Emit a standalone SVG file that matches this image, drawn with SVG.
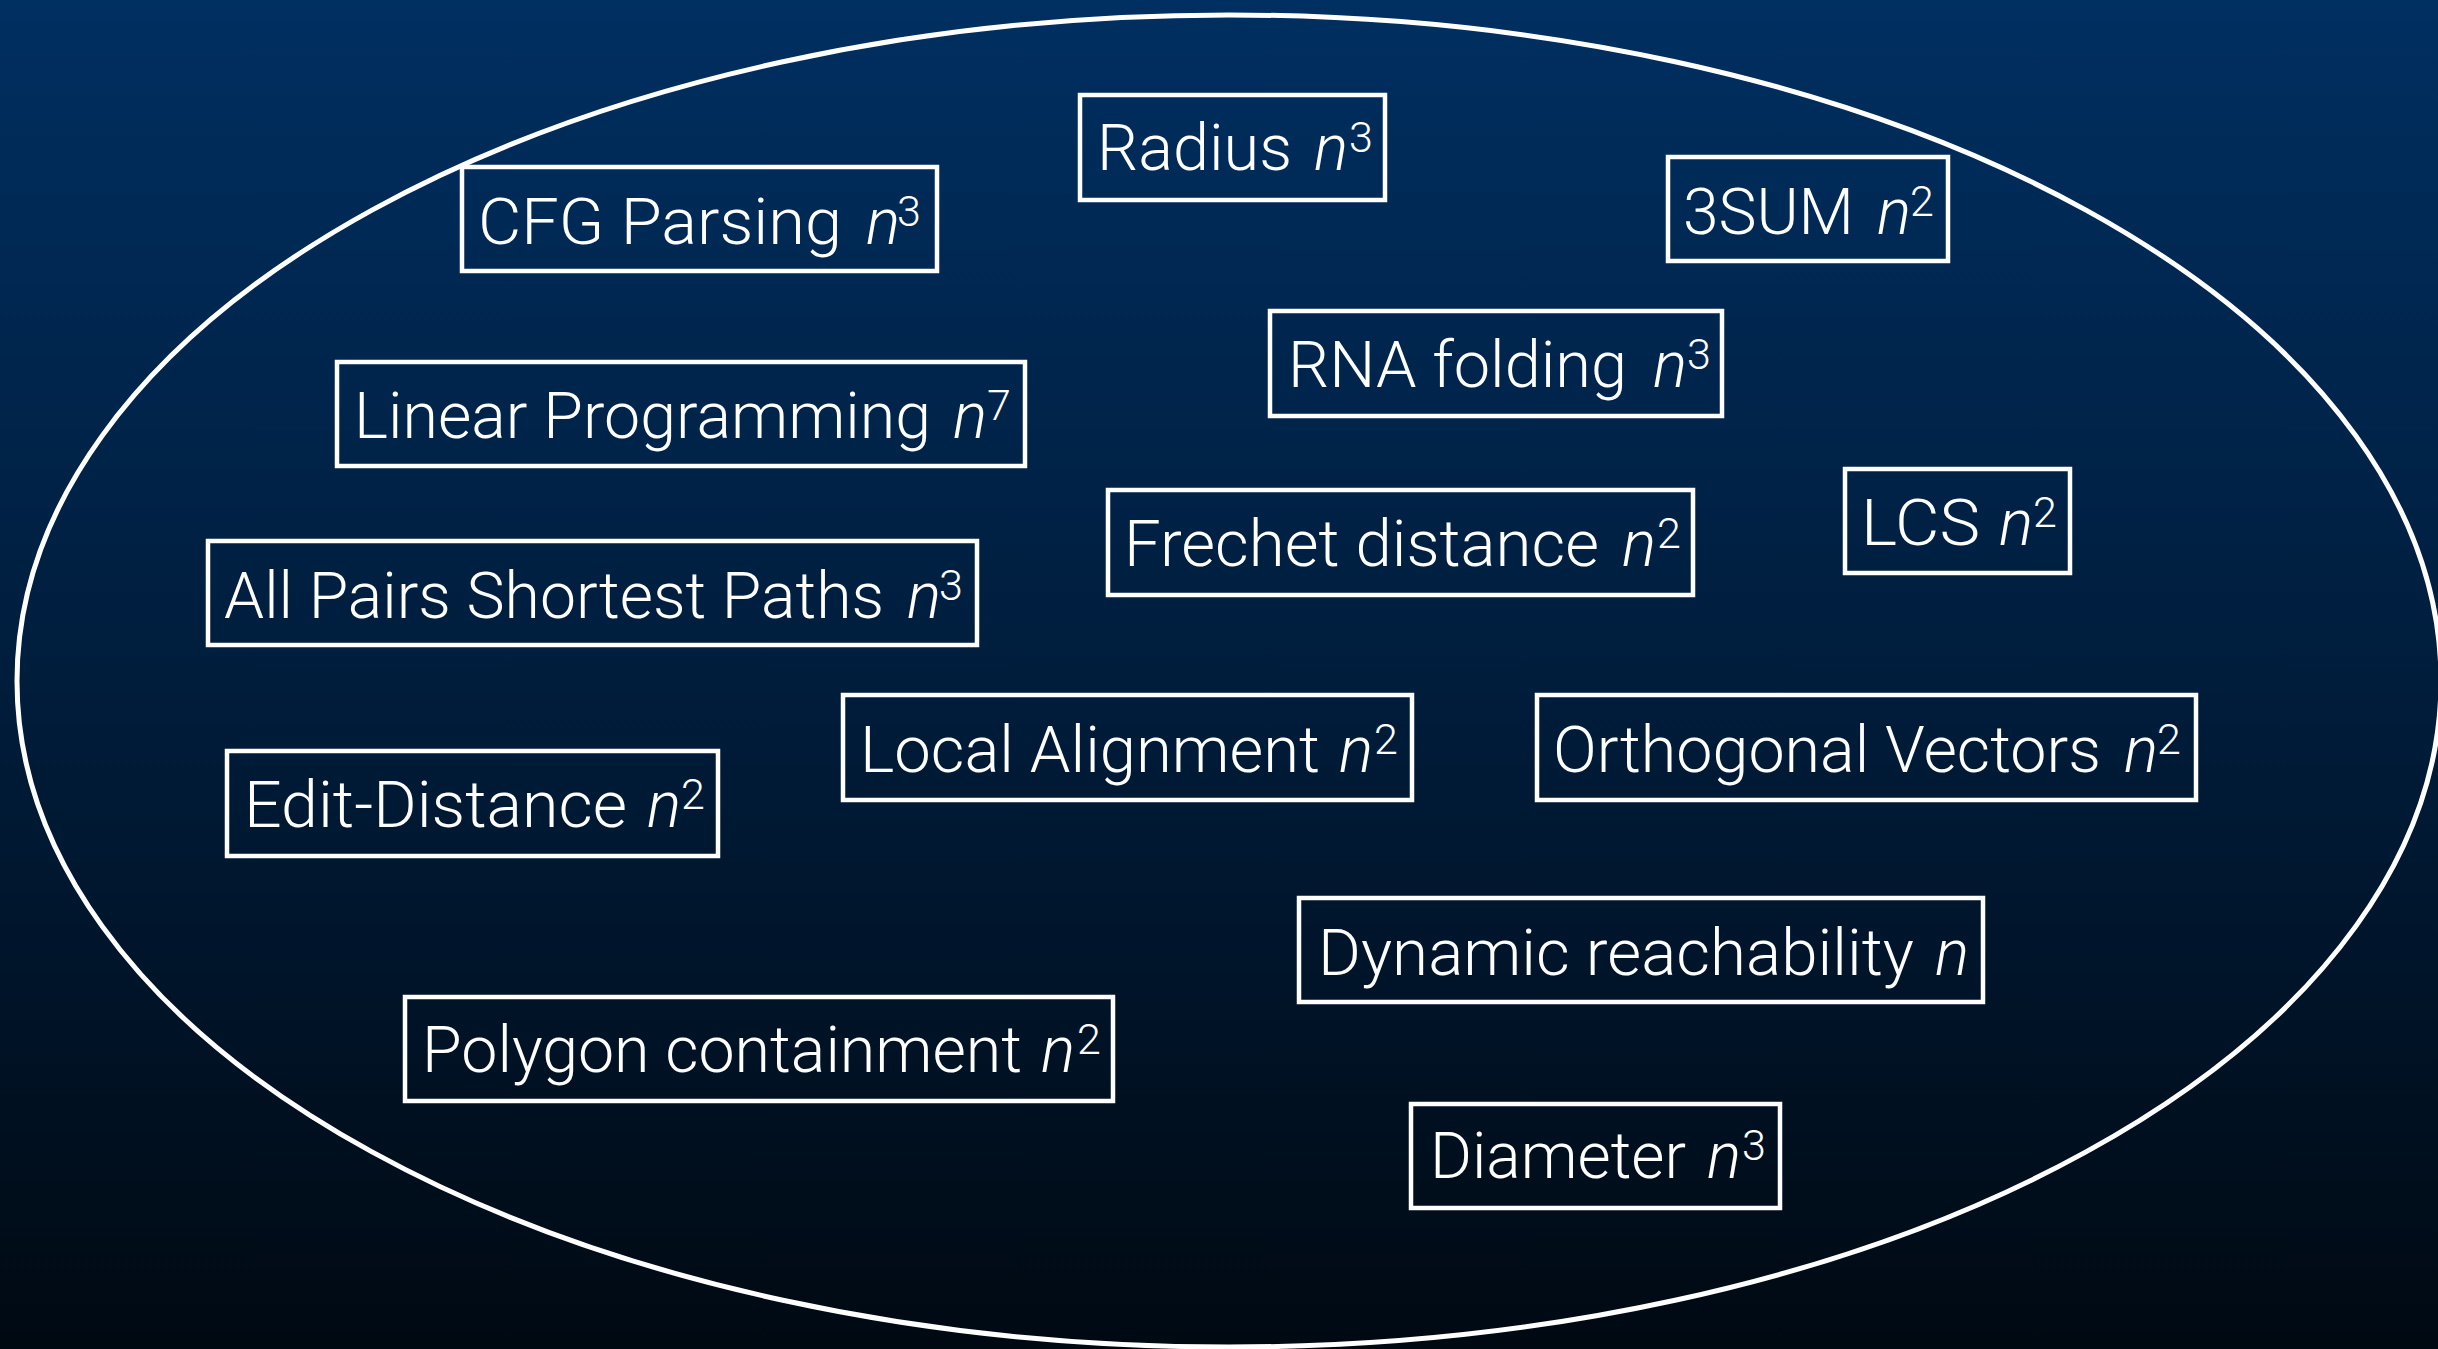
<svg xmlns="http://www.w3.org/2000/svg" width="2438" height="1349" viewBox="0 0 2438 1349">
  <defs>
    <linearGradient id="bg" x1="0" y1="0" x2="0" y2="1">
      <stop offset="0" stop-color="#002f61"/>
      <stop offset="0.5" stop-color="#001d3c"/>
      <stop offset="1" stop-color="#000912"/>
    </linearGradient>
    <style>
      .box { fill: none; stroke: #ffffff; stroke-width: 4.5; }
      .lbl { fill: #ffffff; font-family: Roboto, "Liberation Sans", "Noto Sans", sans-serif; font-weight: 300; font-size: 64px; }
      .it { font-style: italic; }
      .sup { font-size: 43px; }
      .set { fill: none; stroke: #ffffff; stroke-width: 5; }
    </style>
  </defs>
  <rect x="0" y="0" width="2438" height="1349" fill="url(#bg)"/>
  <ellipse class="set" cx="1229" cy="681" rx="1212" ry="666"/>

  <g id="nodes">
    <g id="node-cfg">
      <rect class="box" x="462" y="167" width="475" height="104"/>
      <text class="lbl" y="244"><tspan x="478" textLength="364" lengthAdjust="spacingAndGlyphs">CFG Parsing</tspan> <tspan class="it" x="866">n</tspan><tspan class="sup" x="897" y="226">3</tspan></text>
    </g>
    <g id="node-radius">
      <rect class="box" x="1080" y="95" width="305" height="105"/>
      <text class="lbl" y="170"><tspan x="1097" textLength="195" lengthAdjust="spacingAndGlyphs">Radius</tspan> <tspan class="it" x="1314">n</tspan><tspan class="sup" x="1349" y="152">3</tspan></text>
    </g>
    <g id="node-3sum">
      <rect class="box" x="1668" y="157" width="280" height="104"/>
      <text class="lbl" y="234"><tspan x="1683" textLength="171" lengthAdjust="spacingAndGlyphs">3SUM</tspan> <tspan class="it" x="1877">n</tspan><tspan class="sup" x="1910" y="216">2</tspan></text>
    </g>
    <g id="node-rna">
      <rect class="box" x="1270" y="311" width="452" height="105"/>
      <text class="lbl" y="387"><tspan x="1288" textLength="339" lengthAdjust="spacingAndGlyphs">RNA folding</tspan> <tspan class="it" x="1653">n</tspan><tspan class="sup" x="1687" y="369">3</tspan></text>
    </g>
    <g id="node-lp">
      <rect class="box" x="337" y="362" width="688" height="104"/>
      <text class="lbl" y="438"><tspan x="354" textLength="577" lengthAdjust="spacingAndGlyphs">Linear Programming</tspan> <tspan class="it" x="953">n</tspan><tspan class="sup" x="987" y="420">7</tspan></text>
    </g>
    <g id="node-apsp">
      <rect class="box" x="208" y="541" width="769" height="104"/>
      <text class="lbl" y="618"><tspan x="224" textLength="660" lengthAdjust="spacingAndGlyphs">All Pairs Shortest Paths</tspan> <tspan class="it" x="907">n</tspan><tspan class="sup" x="939" y="600">3</tspan></text>
    </g>
    <g id="node-frechet">
      <rect class="box" x="1108" y="490" width="585" height="105"/>
      <text class="lbl" y="566"><tspan x="1124" textLength="475" lengthAdjust="spacingAndGlyphs">Frechet distance</tspan> <tspan class="it" x="1622">n</tspan><tspan class="sup" x="1657" y="548">2</tspan></text>
    </g>
    <g id="node-lcs">
      <rect class="box" x="1845" y="469" width="225" height="104"/>
      <text class="lbl" y="545"><tspan x="1861" textLength="119" lengthAdjust="spacingAndGlyphs">LCS</tspan> <tspan class="it" x="1999">n</tspan><tspan class="sup" x="2033" y="527">2</tspan></text>
    </g>
    <g id="node-local">
      <rect class="box" x="843" y="695" width="569" height="105"/>
      <text class="lbl" y="772"><tspan x="860" textLength="460" lengthAdjust="spacingAndGlyphs">Local Alignment</tspan> <tspan class="it" x="1339">n</tspan><tspan class="sup" x="1374" y="754">2</tspan></text>
    </g>
    <g id="node-ov">
      <rect class="box" x="1537" y="695" width="659" height="105"/>
      <text class="lbl" y="772"><tspan x="1553" textLength="548" lengthAdjust="spacingAndGlyphs">Orthogonal Vectors</tspan> <tspan class="it" x="2124">n</tspan><tspan class="sup" x="2157" y="754">2</tspan></text>
    </g>
    <g id="node-edit">
      <rect class="box" x="227" y="751" width="491" height="105"/>
      <text class="lbl" y="827"><tspan x="244" textLength="383" lengthAdjust="spacingAndGlyphs">Edit-Distance</tspan> <tspan class="it" x="647">n</tspan><tspan class="sup" x="681" y="809">2</tspan></text>
    </g>
    <g id="node-polygon">
      <rect class="box" x="405" y="997" width="708" height="104"/>
      <text class="lbl" y="1072"><tspan x="422" textLength="600" lengthAdjust="spacingAndGlyphs">Polygon containment</tspan> <tspan class="it" x="1041">n</tspan><tspan class="sup" x="1077" y="1054">2</tspan></text>
    </g>
    <g id="node-dynamic">
      <rect class="box" x="1299" y="898" width="684" height="104"/>
      <text class="lbl" y="975"><tspan x="1318" textLength="596" lengthAdjust="spacingAndGlyphs">Dynamic reachability</tspan> <tspan class="it" x="1935">n</tspan></text>
    </g>
    <g id="node-diameter">
      <rect class="box" x="1411" y="1104" width="369" height="104"/>
      <text class="lbl" y="1178"><tspan x="1430" textLength="256" lengthAdjust="spacingAndGlyphs">Diameter</tspan> <tspan class="it" x="1707">n</tspan><tspan class="sup" x="1742" y="1160">3</tspan></text>
    </g>
  </g>
  <g id="connectors"/>
</svg>
